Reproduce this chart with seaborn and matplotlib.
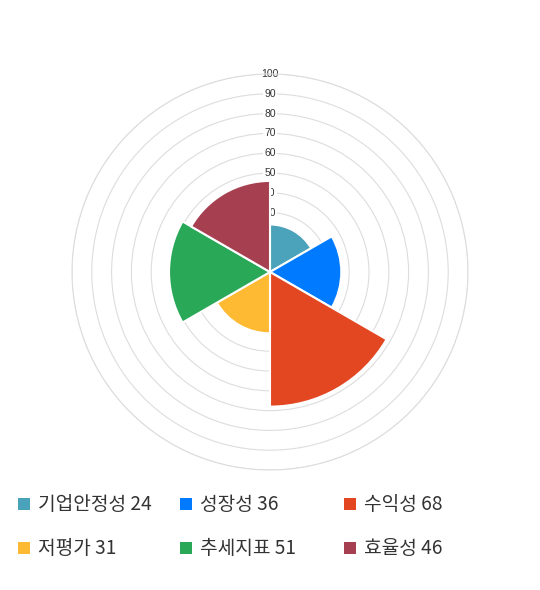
import numpy as np
import matplotlib
matplotlib.use("Agg")
import matplotlib.pyplot as plt
from matplotlib.patches import Rectangle
import seaborn as sns

categories = ["기업안정성", "성장성", "수익성", "저평가", "추세지표", "효율성"]
values = [24, 36, 68, 31, 51, 46]
colors = ["#4AA2BB", "#007AFF", "#E24722", "#FFBA33", "#29A857", "#A63F50"]
rticks = [10, 20, 30, 40, 50, 60, 70, 80, 90, 100]

sns.set_theme(style="white")
plt.rcParams["font.family"] = ["Noto Sans CJK KR", "DejaVu Sans"]

W, H = 540, 590
fig = plt.figure(figsize=(W / 100, H / 100), dpi=100)
cx, cy, R = 270, 272, 198
ax = fig.add_axes([(cx - R) / W, (H - cy - R) / H, 2 * R / W, 2 * R / H], projection="polar")
ax.set_theta_zero_location("N")
ax.set_theta_direction(-1)

n = len(values)
width = 2 * np.pi / n
thetas = np.arange(n) * width
ax.bar(thetas, values, width=width, align="edge", color=colors,
       edgecolor="white", linewidth=1.5, zorder=3)

ax.set_ylim(0, 100)
ax.set_yticks(rticks)
ax.set_yticklabels([])
ax.set_xticks([])
ax.grid(True, axis="y", color="#dddddd", linewidth=0.8)
ax.grid(False, axis="x")
ax.spines["polar"].set_color("#dddddd")
ax.spines["polar"].set_linewidth(0.8)
ax.set_facecolor("white")

for r in rticks:
    ax.text(0, r, str(r), ha="center", va="center", fontsize=7.5, color="#333333",
            family=["Liberation Sans", "DejaVu Sans"],
            bbox=dict(boxstyle="square,pad=0.1", fc="white", ec="none"), zorder=2.5)

# legend
col_x = [18, 180, 344]
row_y = [504, 548]
sq = 12
for i, (c, v, col) in enumerate(zip(categories, values, colors)):
    x = col_x[i % 3]
    y = row_y[i // 3]
    fig.patches.append(Rectangle((x / W, (H - y - sq / 2) / H), sq / W, sq / H,
                                 transform=fig.transFigure, facecolor=col, edgecolor="none"))
    fig.text((x + 20) / W, (H - y) / H, f"{c} {v}", ha="left", va="center",
             fontsize=13.8, color="#333333")

fig.savefig("out.png", dpi=100, facecolor="white")
